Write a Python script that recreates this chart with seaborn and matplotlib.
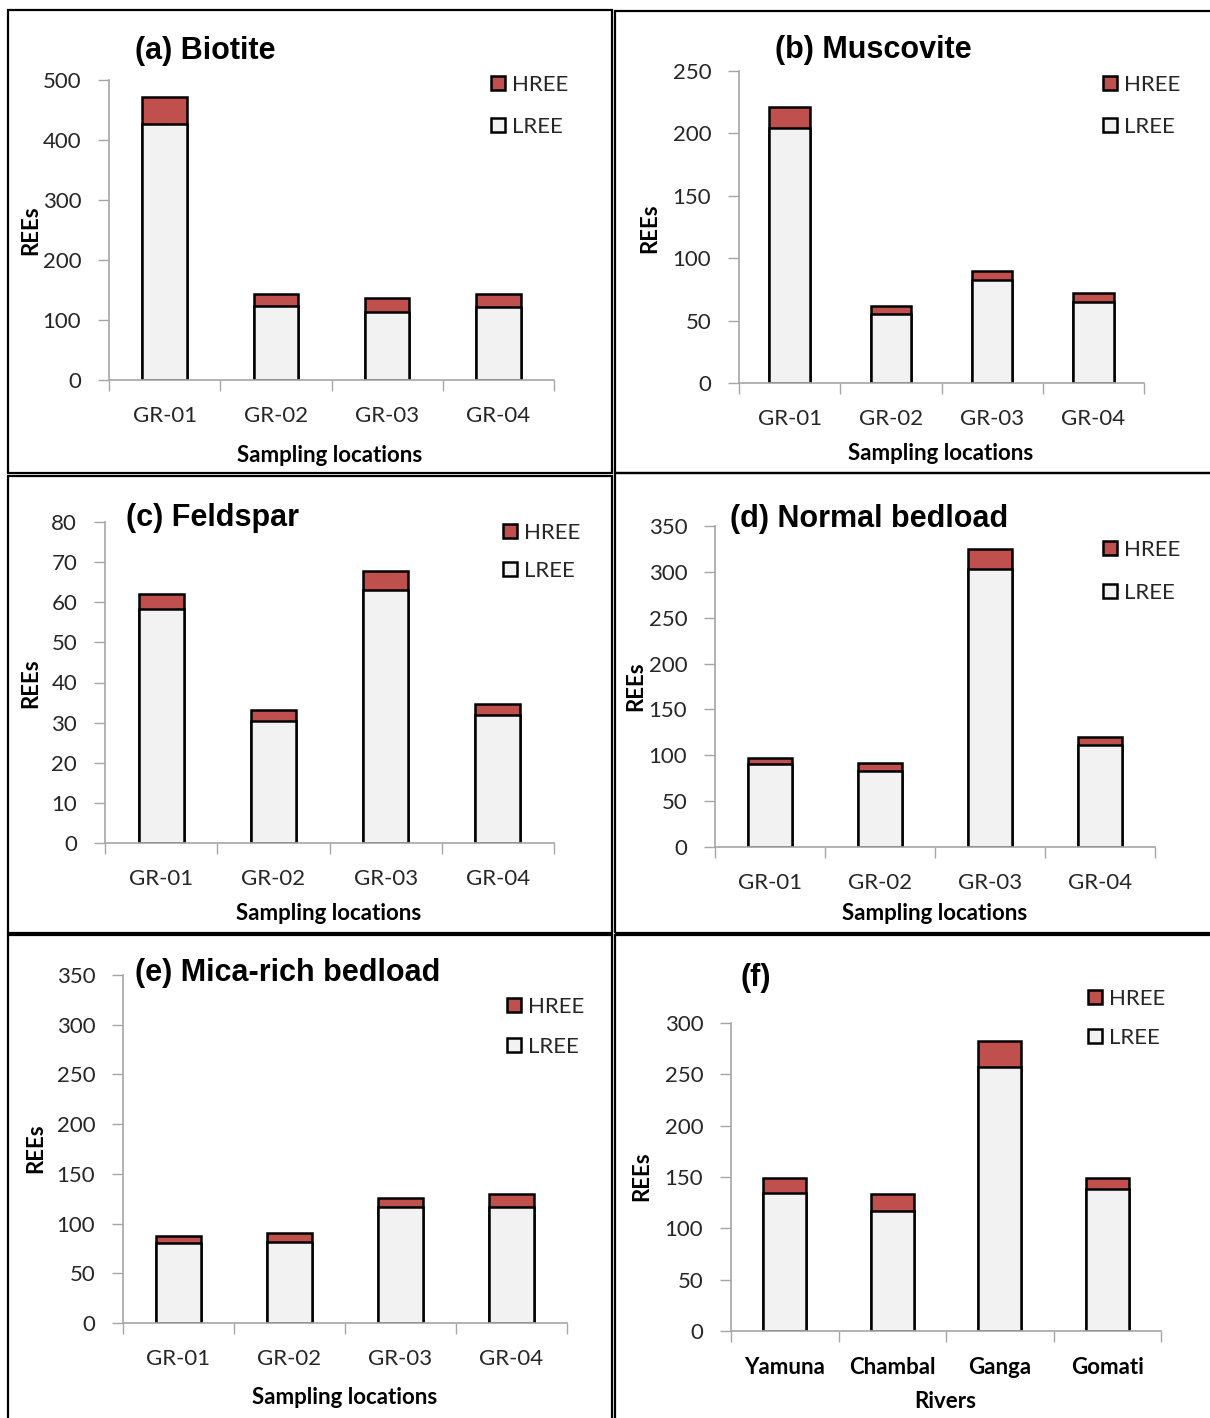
import matplotlib
matplotlib.use("Agg")
import matplotlib.pyplot as plt
from matplotlib.lines import Line2D
from matplotlib.patches import Rectangle
import pandas as pd
import seaborn as sns

# ---- data -------------------------------------------------------------
sites = ["GR-01", "GR-02", "GR-03", "GR-04"]
rivers = ["Yamuna", "Chambal", "Ganga", "Gomati"]

biotite_lree = [427, 123, 114, 121]
biotite_hree = [45, 20, 22, 22]

muscovite_lree = [204, 55.5, 82.5, 65]
muscovite_hree = [17, 6.5, 7.5, 7.5]

feldspar_lree = [58.4, 30.4, 63.1, 31.8]
feldspar_hree = [3.6, 2.8, 4.7, 2.8]

normal_lree = [90, 83, 303, 111]
normal_hree = [7.5, 9, 22, 8.5]

mica_lree = [80, 81, 116.5, 117]
mica_hree = [8, 10, 9, 12.5]

river_lree = [134, 117, 257, 138]
river_hree = [15.5, 16, 25, 11.5]

# ---- style ------------------------------------------------------------
sns.set_theme(style="white")
plt.rcParams["font.family"] = ["Lato", "DejaVu Sans"]

HREE_COLOR = "#C0504D"
LREE_COLOR = "#F2F2F2"
AXIS_GRAY = "#A6A6A6"
TEXT_COLOR = "#262626"

W, H = 1210, 1418
fig = plt.figure(figsize=(W / 100, H / 100), dpi=100)
fig.patch.set_facecolor("white")

# panel frames
for (x0, y0, x1, y1) in [(8, 10, 612, 473), (615, 11, 1212, 473),
                         (8, 476, 612, 933), (615, 473, 1212, 933),
                         (8, 935, 612, 1422), (615, 935, 1212, 1422)]:
    fig.patches.append(Rectangle((x0 / W, 1 - y1 / H), (x1 - x0) / W, (y1 - y0) / H,
                                 transform=fig.transFigure, fill=False,
                                 edgecolor="black", linewidth=1.6, zorder=0))

panels = [
    dict(box=(109, 554, 80, 380), cats=sites, lree=biotite_lree, hree=biotite_hree,
         ymax=500, step=100, title="(a) Biotite", title_at=(135, 51),
         xlabel="Sampling locations", xlabel_at=(330, 455), ylabel_at=(31, 230),
         legend_at=(490, 85, 127)),
    dict(box=(739, 1144, 71, 383), cats=sites, lree=muscovite_lree, hree=muscovite_hree,
         ymax=250, step=50, title="(b) Muscovite", title_at=(775, 50),
         xlabel="Sampling locations", xlabel_at=(941, 454), ylabel_at=(650, 228),
         legend_at=(1102, 85, 127)),
    dict(box=(105, 554, 522, 843), cats=sites, lree=feldspar_lree, hree=feldspar_hree,
         ymax=80, step=10, title="(c) Feldspar", title_at=(126, 518),
         xlabel="Sampling locations", xlabel_at=(329, 914), ylabel_at=(31, 683),
         legend_at=(502, 533, 571)),
    dict(box=(715, 1155, 526, 847), cats=sites, lree=normal_lree, hree=normal_hree,
         ymax=350, step=50, title="(d) Normal bedload", title_at=(730, 519),
         xlabel="Sampling locations", xlabel_at=(935, 914), ylabel_at=(636, 686),
         legend_at=(1102, 550, 593)),
    dict(box=(123, 567, 975, 1323), cats=sites, lree=mica_lree, hree=mica_hree,
         ymax=350, step=50, title="(e) Mica-rich bedload", title_at=(135, 973),
         xlabel="Sampling locations", xlabel_at=(345, 1397), ylabel_at=(36, 1148),
         legend_at=(506, 1007, 1047)),
    dict(box=(731, 1161, 1023, 1331), cats=rivers, lree=river_lree, hree=river_hree,
         ymax=300, step=50, title="(f)", title_at=(740, 978),
         xlabel="Rivers", xlabel_at=(945, 1402), ylabel_at=(642, 1176),
         legend_at=(1087, 999, 1038), bold_ticks=True),
]


def to_axes(box, px, py):
    x0, x1, yt, yb = box
    return (px - x0) / (x1 - x0), (yb - py) / (yb - yt)


for p in panels:
    x0, x1, yt, yb = p["box"]
    ax = fig.add_axes([x0 / W, 1 - yb / H, (x1 - x0) / W, (yb - yt) / H])
    df = pd.DataFrame({"cat": p["cats"], "LREE": p["lree"], "HREE": p["hree"]})
    df["total"] = df["LREE"] + df["HREE"]

    # stacked bars: full height in HREE colour, LREE portion drawn over it
    sns.barplot(data=df, x="cat", y="total", order=p["cats"], color=HREE_COLOR,
                saturation=1, width=0.4, edgecolor="black", linewidth=1.8,
                errorbar=None, ax=ax)
    sns.barplot(data=df, x="cat", y="LREE", order=p["cats"], color=LREE_COLOR,
                saturation=1, width=0.4, edgecolor="black", linewidth=1.8,
                errorbar=None, ax=ax)

    ax.set_xlim(-0.5, len(p["cats"]) - 0.5)
    ax.set_ylim(0, p["ymax"])
    ax.set_yticks(range(0, p["ymax"] + 1, p["step"]))
    ax.set_xticks(range(len(p["cats"])))
    ax.set_xticks([i - 0.5 for i in range(len(p["cats"]) + 1)], minor=True)
    ax.tick_params(axis="x", which="major", length=0, pad=18.5, labelsize=16,
                   labelcolor=TEXT_COLOR)
    ax.tick_params(axis="x", which="minor", length=8, width=1, color=AXIS_GRAY,
                   direction="out", bottom=True)
    ax.tick_params(axis="y", length=8, width=1, color=AXIS_GRAY, direction="out",
                   left=True, pad=12, labelsize=16, labelcolor=TEXT_COLOR)
    if p.get("bold_ticks"):
        for lab in ax.get_xticklabels():
            lab.set_fontweight("bold")
            lab.set_color("black")

    for side in ("top", "right"):
        ax.spines[side].set_visible(False)
    for side in ("left", "bottom"):
        ax.spines[side].set_color(AXIS_GRAY)
        ax.spines[side].set_linewidth(1.2)
    ax.set_facecolor("none")

    # labels
    ax.set_xlabel(p["xlabel"], fontsize=16, fontweight="bold", color="black",
                  va="center")
    ax.xaxis.set_label_coords(*to_axes(p["box"], *p["xlabel_at"]))
    ax.set_ylabel("REEs", fontsize=16, fontweight="bold", color="black",
                  va="center")
    ax.yaxis.set_label_coords(*to_axes(p["box"], *p["ylabel_at"]))

    tx, ty = to_axes(p["box"], *p["title_at"])
    ax.set_title(p["title"], loc="left", x=tx, y=ty, pad=0, va="center", ha="left",
                 fontsize=22, fontweight="bold", color="black",
                 fontfamily=["Liberation Sans", "DejaVu Sans"])

    # legend
    lx, ly1, ly2 = p["legend_at"]
    ax_lx, ax_ly = to_axes(p["box"], lx, (ly1 + ly2) / 2)
    handles = [
        Line2D([], [], linestyle="none", marker="s", markersize=10.5,
               markerfacecolor=HREE_COLOR, markeredgecolor="black",
               markeredgewidth=1.8, label="HREE"),
        Line2D([], [], linestyle="none", marker="s", markersize=10.5,
               markerfacecolor=LREE_COLOR, markeredgecolor="black",
               markeredgewidth=1.8, label="LREE"),
    ]
    spacing = (ly2 - ly1) / 22.2 - 0.88
    ax.legend(handles=handles, loc="center left", bbox_to_anchor=(ax_lx, ax_ly),
              frameon=False, fontsize=16, borderpad=0, borderaxespad=0,
              handlelength=0.75, handletextpad=0.25, labelspacing=spacing,
              labelcolor=TEXT_COLOR)

fig.savefig("out.png", dpi=100, facecolor="white")
